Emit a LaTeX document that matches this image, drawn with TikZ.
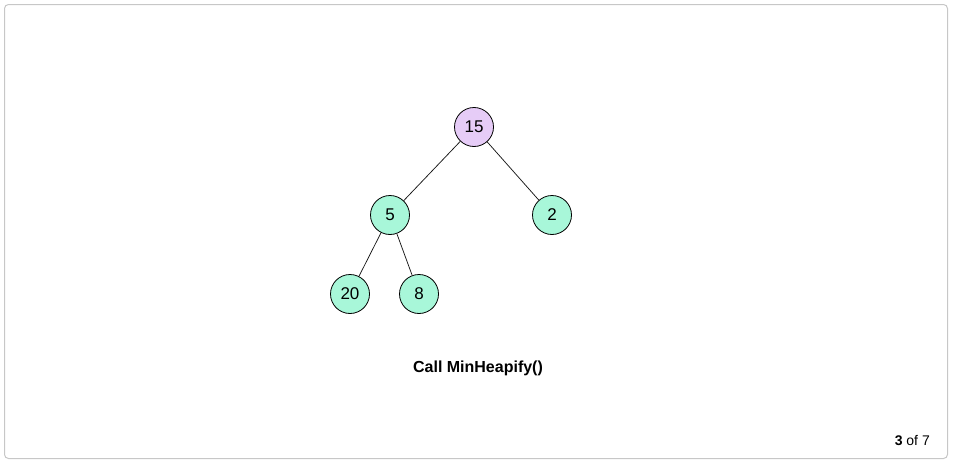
\documentclass[tikz,border=0pt]{standalone}
\usepackage{fontspec}
\setmainfont{Liberation Sans}
\begin{document}
\begin{tikzpicture}[x=1pt,y=-1pt,
  heapnode/.style={circle,draw=black,line width=0.8pt,minimum size=39pt,inner sep=0pt,font=\fontsize{17}{19}\selectfont},
  edge/.style={draw=black!90,line width=0.75pt}]
  \definecolor{lav}{HTML}{E6CCF7}
  \definecolor{mint}{HTML}{A8F7D9}
  \useasboundingbox (0,0) rectangle (954,463);
  % outer card
  \draw[draw=black!22,line width=1pt,rounded corners=4pt] (4.5,4.5) rectangle (947.5,458.5);
  % heap
  \node[heapnode,fill=lav] (n15) at (474,127) {15};
  \node[heapnode,fill=mint] (n5) at (390,215) {5};
  \node[heapnode,fill=mint] (n2) at (552,215) {2};
  \node[heapnode,fill=mint] (n20) at (350,294) {20};
  \node[heapnode,fill=mint] (n8) at (419,294) {8};
  \draw[edge] (n15) -- (n5);
  \draw[edge] (n15) -- (n2);
  \draw[edge] (n5) -- (n20);
  \draw[edge] (n5) -- (n8);
  % caption and step counter
  \node[font=\fontsize{16}{18}\selectfont\bfseries] (cap) at (478,368) {Call MinHeapify()};
  \node[font=\fontsize{14}{16}\selectfont,anchor=east,inner sep=0pt] (cnt) at (930,441) {\textbf{3} of 7};
\end{tikzpicture}
\end{document}
